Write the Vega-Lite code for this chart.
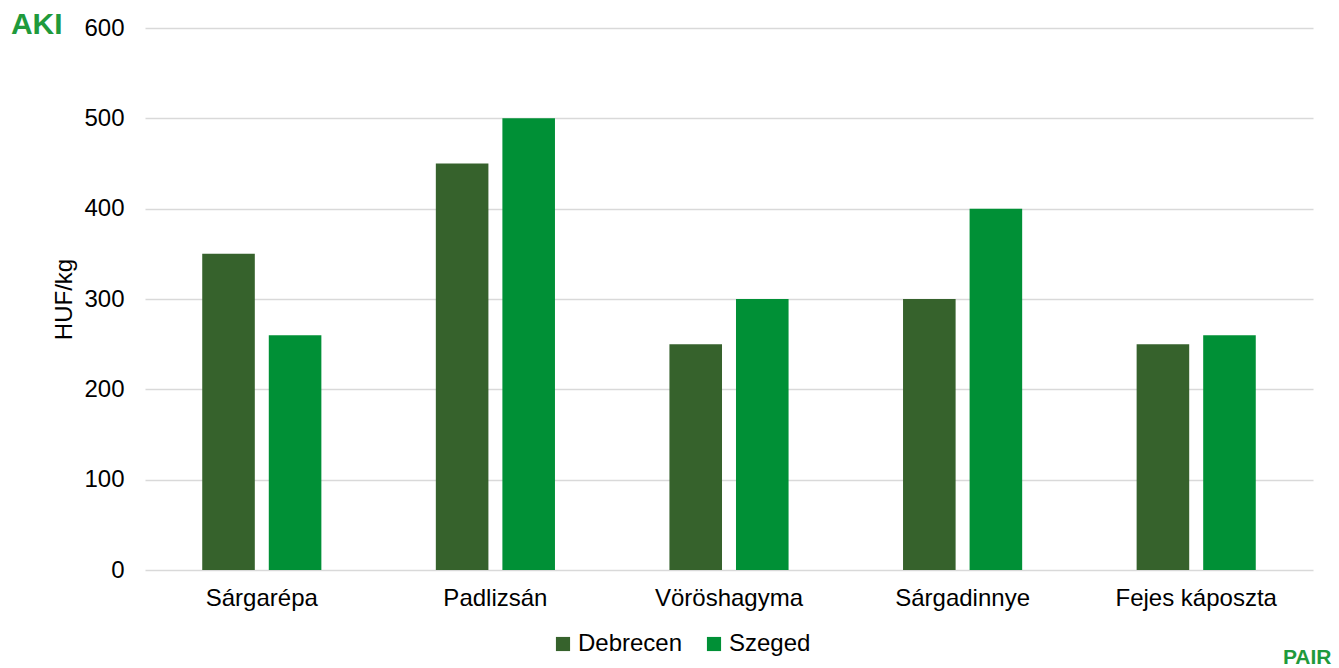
{
  "$schema": "https://vega.github.io/schema/vega-lite/v6.json",
  "width": 1168,
  "height": 542,
  "autosize": "none",
  "padding": {"left": 145, "top": 28, "right": 26, "bottom": 98},
  "background": "white",
  "title": {
    "text": "AKI",
    "anchor": "start",
    "frame": "bounds",
    "color": "#1f9a3c",
    "fontSize": 30,
    "fontWeight": "bold",
    "font": "Liberation Sans",
    "dx": -42,
    "dy": 24,
    "offset": 0
  },
  "data": {
    "values": [
      {"termek": "Sárgarépa", "piac": "Debrecen", "ar": 350},
      {"termek": "Sárgarépa", "piac": "Szeged", "ar": 260},
      {"termek": "Padlizsán", "piac": "Debrecen", "ar": 450},
      {"termek": "Padlizsán", "piac": "Szeged", "ar": 500},
      {"termek": "Vöröshagyma", "piac": "Debrecen", "ar": 250},
      {"termek": "Vöröshagyma", "piac": "Szeged", "ar": 300},
      {"termek": "Sárgadinnye", "piac": "Debrecen", "ar": 300},
      {"termek": "Sárgadinnye", "piac": "Szeged", "ar": 400},
      {"termek": "Fejes káposzta", "piac": "Debrecen", "ar": 250},
      {"termek": "Fejes káposzta", "piac": "Szeged", "ar": 260}
    ]
  },
  "mark": {"type": "bar"},
  "encoding": {
    "x": {
      "field": "termek",
      "type": "nominal",
      "sort": null,
      "scale": {"paddingInner": 0.49, "paddingOuter": 0.245},
      "axis": {
        "title": "PAIR",
        "titleAnchor": "end",
        "titleAlign": "right",
        "titleX": 1186,
        "titleColor": "#1f9a3c",
        "titleFontSize": 21,
        "titleFontWeight": "bold",
        "titleFont": "Liberation Sans",
        "titlePadding": 36,
        "labelAngle": 0,
        "labelFont": "Liberation Sans",
        "labelFontSize": 24,
        "labelColor": "#000000",
        "labelPadding": 16,
        "ticks": false,
        "domain": false
      }
    },
    "xOffset": {
      "field": "piac",
      "type": "nominal",
      "scale": {"paddingInner": 0.21, "paddingOuter": 0}
    },
    "y": {
      "field": "ar",
      "type": "quantitative",
      "scale": {"domain": [0, 600]},
      "axis": {
        "title": "HUF/kg",
        "titleFont": "Liberation Sans",
        "titleFontSize": 24,
        "titleFontWeight": "normal",
        "titleColor": "#000000",
        "titlePadding": 7,
        "values": [0, 100, 200, 300, 400, 500, 600],
        "labelFont": "Liberation Sans",
        "labelFontSize": 24,
        "labelColor": "#000000",
        "labelPadding": 21,
        "ticks": false,
        "domain": false,
        "grid": true,
        "gridColor": "#d9d9d9",
        "gridWidth": 1.5
      }
    },
    "color": {
      "field": "piac",
      "type": "nominal",
      "scale": {"domain": ["Debrecen", "Szeged"], "range": ["#36622c", "#009036"]},
      "legend": {
        "title": null,
        "orient": "none",
        "direction": "horizontal",
        "legendX": 406,
        "legendY": 604,
        "symbolType": "square",
        "symbolSize": 200,
        "symbolStrokeWidth": 0,
        "labelFont": "Liberation Sans",
        "labelFontSize": 24,
        "labelColor": "#000000",
        "labelOffset": 3,
        "columnPadding": 19
      }
    }
  },
  "config": {
    "view": {"stroke": null},
    "axis": {"gridDash": []}
  }
}
